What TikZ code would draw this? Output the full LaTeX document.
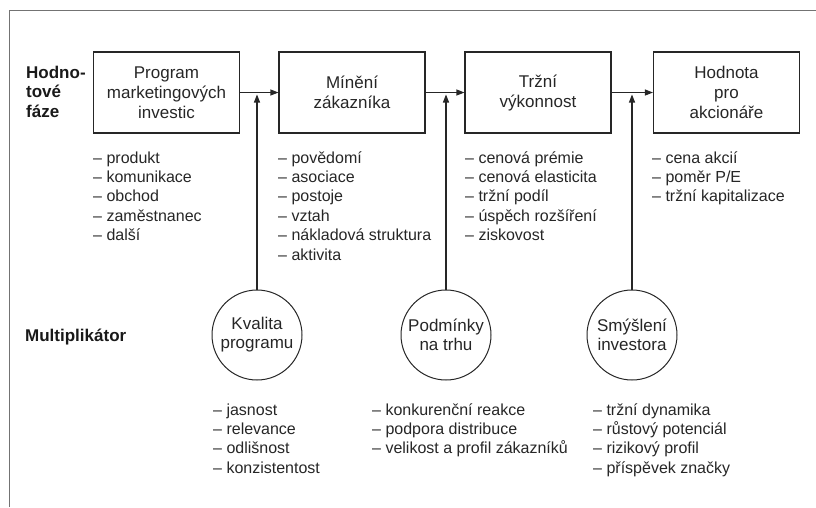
\documentclass[tikz,border=0pt]{standalone}
\usepackage{fontspec}
\setmainfont{Liberation Sans}
\usetikzlibrary{arrows.meta}
\begin{document}
\begin{tikzpicture}[x=1pt,y=-1pt,
  stage/.style={draw=black!85, line width=1.1pt, minimum width=146pt, minimum height=81pt,
    align=center, inner sep=0pt, text=black!85, font=\fontsize{17}{20}\selectfont},
  mult/.style={draw=black!85, line width=1pt, circle, minimum size=90pt, inner sep=0pt,
    align=center, text=black!85, font=\fontsize{17}{19}\selectfont},
  item/.style={anchor=base west, inner sep=0pt, text=black!85, font=\fontsize{16}{19}\selectfont},
  rowlabel/.style={anchor=base west, inner sep=0pt, text=black!90, font=\bfseries\fontsize{17}{19}\selectfont},
  flow/.style={draw=black!85, line width=1.1pt, -{Triangle[length=8pt,width=6pt]}},
  frame/.style={draw=black!55, line width=1.6pt}
]
\useasboundingbox (0,0) rectangle (816,507);

% partial frame along the top and left edges
\draw[frame] (9.5,507) -- (9.5,10.5) -- (816,10.5);

% row labels
\node[rowlabel] (h1) at (26,78) {Hodno-};
\node[rowlabel] (h2) at (26,97.5) {tové};
\node[rowlabel] (h3) at (26,117) {fáze};
\node[rowlabel] (m1) at (25,341) {Multiplikátor};

% value stages
\node[stage] (b1) at (166.5,92.5) {Program\\marketingových\\investic};
\node[stage] (b2) at (352,92.5) {Mínění\\zákazníka};
\node[stage] (b3) at (538,92.5) {Tržní\\výkonnost};
\node[stage] (b4) at (726.5,92.5) {Hodnota\\pro\\akcionáře};

\draw[flow] (b1) -- (b2);
\draw[flow] (b2) -- (b3);
\draw[flow] (b3) -- (b4);

% multipliers
\node[mult] (c1) at (257,335) {Kvalita\\programu};
\node[mult] (c2) at (446,335) {Podmínky\\na trhu};
\node[mult] (c3) at (632,335) {Smýšlení\\investora};

\coordinate (j1) at (257,92.5);
\coordinate (j2) at (446,92.5);
\coordinate (j3) at (632,92.5);
\draw[flow, shorten >=2pt] (c1) -- (j1);
\draw[flow, shorten >=2pt] (c2) -- (j2);
\draw[flow, shorten >=2pt] (c3) -- (j3);

% lists under the stages
\foreach \t [count=\i] in {produkt,komunikace,obchod,zaměstnanec,další}
  \node[item] (la\i) at (93,{163+19.4*(\i-1)}) {– \t};
\foreach \t [count=\i] in {povědomí,asociace,postoje,vztah,nákladová struktura,aktivita}
  \node[item] (lb\i) at (278,{163+19.4*(\i-1)}) {– \t};
\foreach \t [count=\i] in {cenová prémie,cenová elasticita,tržní podíl,úspěch rozšíření,ziskovost}
  \node[item] (lc\i) at (465,{163+19.4*(\i-1)}) {– \t};
\foreach \t [count=\i] in {cena akcií,poměr P/E,tržní kapitalizace}
  \node[item] (ld\i) at (652,{163+19.4*(\i-1)}) {– \t};

% lists under the multipliers
\foreach \t [count=\i] in {jasnost,relevance,odlišnost,konzistentost}
  \node[item] (ma\i) at (213,{415+19.4*(\i-1)}) {– \t};
\foreach \t [count=\i] in {konkurenční reakce,podpora distribuce,velikost a profil zákazníků}
  \node[item] (mb\i) at (372,{415+19.4*(\i-1)}) {– \t};
\foreach \t [count=\i] in {tržní dynamika,růstový potenciál,rizikový profil,příspěvek značky}
  \node[item] (mc\i) at (593,{415+19.4*(\i-1)}) {– \t};
\end{tikzpicture}
\end{document}
